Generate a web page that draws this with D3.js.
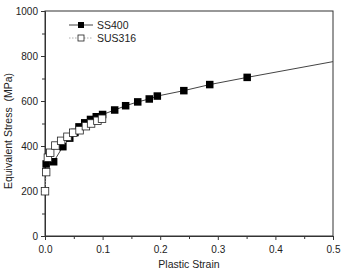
<!DOCTYPE html>
<html>
<head>
<meta charset="utf-8">
<script src="https://cdn.jsdelivr.net/npm/d3@7"></script>
<style>
  body { margin: 0; background: #fff; }
  text { font-family: "Liberation Sans", Arial, sans-serif; fill: #222; }
</style>
</head>
<body>
<svg id="chart" width="341" height="272"></svg>
<script>
// SS400 measured points (filled squares)
const ss400Strain = [0.002, 0.015, 0.031, 0.043, 0.052, 0.059, 0.069, 0.079, 0.089, 0.100,
                     0.121, 0.140, 0.161, 0.181, 0.195, 0.241, 0.286, 0.351];
const ss400Stress = [320, 330, 397, 435, 460, 485, 503, 518, 530, 540,
                     560, 579, 596, 609, 622, 646, 673, 705];
// the SS400 line keeps going past the last marker up to the right edge
const ss400LineEnd = [0.5, 775];

// SUS316 measured points (open squares)
const sus316Strain = [0.000, 0.002, 0.005, 0.009, 0.018, 0.028, 0.039, 0.049, 0.060, 0.071, 0.080, 0.091, 0.099];
const sus316Stress = [199, 284, 348, 370, 402, 423, 441, 459, 470, 488, 500, 512, 521];

const xTicks = [0, 0.1, 0.2, 0.3, 0.4, 0.5];
const yTicks = [0, 200, 400, 600, 800, 1000];

const svg = d3.select("#chart");
const plot = { left: 45, right: 333, top: 11, bottom: 236 };

const x = d3.scaleLinear().domain([0, 0.5]).range([plot.left, plot.right]);
const y = d3.scaleLinear().domain([0, 1000]).range([plot.bottom, plot.top]);

const ss400 = ss400Strain.map((s, i) => [s, ss400Stress[i]]);
const sus316 = sus316Strain.map((s, i) => [s, sus316Stress[i]]);

// frame
svg.append("rect")
    .attr("x", plot.left).attr("y", plot.top)
    .attr("width", plot.right - plot.left).attr("height", plot.bottom - plot.top)
    .attr("fill", "none").attr("stroke", "#333").attr("stroke-width", 1);

// x axis
const xAxis = svg.append("g").attr("transform", `translate(0,${plot.bottom})`);
xAxis.call(d3.axisBottom(x).tickValues(xTicks).tickFormat(d3.format(".1f")).tickSize(4).tickSizeOuter(0));
xAxis.append("g").call(d3.axisBottom(x).tickValues([0.05, 0.15, 0.25, 0.35, 0.45]).tickFormat("").tickSize(3).tickSizeOuter(0));

// y axis
const yAxis = svg.append("g").attr("transform", `translate(${plot.left},0)`);
yAxis.call(d3.axisLeft(y).tickValues(yTicks).tickFormat(d3.format("d")).tickSize(4).tickSizeOuter(0));
yAxis.append("g").call(d3.axisLeft(y).tickValues([100, 300, 500, 700, 900]).tickFormat("").tickSize(3).tickSizeOuter(0));

svg.selectAll(".domain").attr("stroke", "#333");
svg.selectAll(".tick line").attr("stroke", "#333");
svg.selectAll(".tick text").attr("font-size", 10).style("font-family", "Liberation Sans, Arial, sans-serif").attr("fill", "#222");
xAxis.selectAll(".tick text").attr("dy", "1em");

// axis titles
svg.append("text")
    .attr("x", (plot.left + plot.right) / 2).attr("y", 268)
    .attr("text-anchor", "middle").attr("font-size", 10.5)
    .text("Plastic Strain");

svg.append("text")
    .attr("transform", "translate(12,131) rotate(-90)")
    .attr("text-anchor", "middle").attr("font-size", 10.5)
    .attr("xml:space", "preserve")
    .text("Equivalent Stress  (MPa)");

const line = d3.line().x(d => x(d[0])).y(d => y(d[1]));

// SUS316 dotted line
svg.append("path")
    .datum(sus316)
    .attr("d", line)
    .attr("fill", "none").attr("stroke", "#999").attr("stroke-width", 0.8)
    .attr("stroke-dasharray", "1.5,1.5");

// SS400 solid line
svg.append("path")
    .datum(ss400.concat([ss400LineEnd]))
    .attr("d", line)
    .attr("fill", "none").attr("stroke", "#444").attr("stroke-width", 1);

const size = 7.5;

// SS400 markers (drawn first so the open squares sit over them at low strain)
svg.append("g").selectAll("rect")
    .data(ss400)
    .join("rect")
    .attr("x", d => x(d[0]) - size / 2)
    .attr("y", d => y(d[1]) - size / 2)
    .attr("width", size).attr("height", size)
    .attr("fill", "#000");

svg.append("g").selectAll("rect")
    .data(sus316)
    .join("rect")
    .attr("x", d => x(d[0]) - size / 2)
    .attr("y", d => y(d[1]) - size / 2)
    .attr("width", size).attr("height", size)
    .attr("fill", "#fff").attr("stroke", "#222").attr("stroke-width", 0.8);

// legend
const lg = svg.append("g");
lg.append("line").attr("x1", 69).attr("x2", 93).attr("y1", 25).attr("y2", 25)
    .attr("stroke", "#444").attr("stroke-width", 1);
lg.append("rect").attr("x", 81 - 3).attr("y", 25 - 3).attr("width", 6).attr("height", 6).attr("fill", "#000");
lg.append("text").attr("x", 97).attr("y", 28.5).attr("font-size", 10.5).text("SS400");

lg.append("line").attr("x1", 69).attr("x2", 93).attr("y1", 38).attr("y2", 38)
    .attr("stroke", "#999").attr("stroke-width", 0.8).attr("stroke-dasharray", "1.5,1.5");
lg.append("rect").attr("x", 81 - 3).attr("y", 38 - 3).attr("width", 6).attr("height", 6)
    .attr("fill", "#fff").attr("stroke", "#222").attr("stroke-width", 0.8);
lg.append("text").attr("x", 97).attr("y", 41.5).attr("font-size", 10.5).text("SUS316");
</script>
</body>
</html>
